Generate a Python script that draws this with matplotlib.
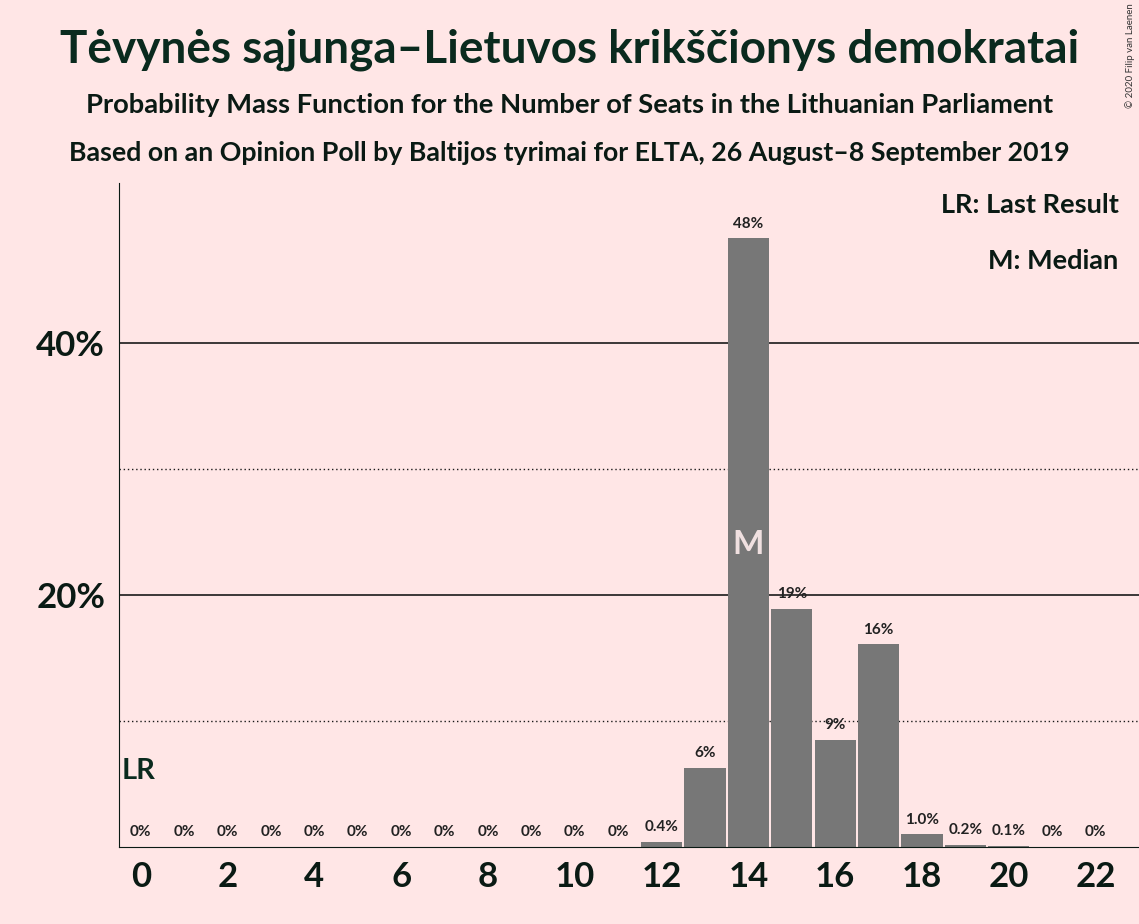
import matplotlib.pyplot as plt

seats = list(range(23))
probs = [0, 0, 0, 0, 0, 0, 0, 0, 0, 0, 0, 0, 0.4, 6.3, 48.3, 18.9, 8.5, 16.1, 1.0, 0.2, 0.1, 0, 0]
labels = ["0%"] * 12 + ["0.4%", "6%", "48%", "19%", "9%", "16%", "1.0%", "0.2%", "0.1%", "0%", "0%"]
median_seat = 14
last_result = 0

bg = "#FFE6E6"
plt.rcParams['font.family'] = ['Lato', 'DejaVu Sans']

fig = plt.figure(figsize=(11.39, 9.24), dpi=100, facecolor=bg)
ax = fig.add_axes([0.1045, 0.0833, 0.8955, 0.7187], facecolor=bg)

for y in [10, 30]:
    ax.axhline(y, color="#1a1a1a", linestyle=(0, (1, 2)), linewidth=1, zorder=1)
for y in [20, 40]:
    ax.axhline(y, color="#1a1a1a", linewidth=1.2, zorder=1)

ax.bar(seats, probs, width=0.95, color="#777777", zorder=2)
for s, p, lab in zip(seats, probs, labels):
    ax.text(s, p + 0.6, lab, ha="center", va="bottom", fontsize=11, fontweight="bold",
            color="#222222", zorder=3)

ax.text(median_seat, 24, "M", ha="center", va="center", fontsize=24, fontweight="bold",
        color="#f0e0e0", zorder=3)
ax.text(last_result - 0.45, 5.0, "LR", ha="left", va="bottom", fontsize=21, fontweight="bold",
        color="#0a2a1e", zorder=3)

ax.set_xlim(-0.5, 23.0)
ax.set_ylim(0, 52.7)
ax.set_xticks(range(0, 23, 2))
ax.set_yticks([20, 40])
ax.set_yticklabels(["20%", "40%"])
ax.tick_params(axis="both", length=0, labelsize=25, colors="#0a1a14", pad=10)
for lab in ax.get_xticklabels() + ax.get_yticklabels():
    lab.set_fontweight("bold")
for side in ["top", "right"]:
    ax.spines[side].set_visible(False)
ax.spines["left"].set_color("#0a1a14")
ax.spines["bottom"].set_color("#0a1a14")

ax.text(0.98, 0.985, "LR: Last Result", transform=ax.transAxes, ha="right", va="top",
        fontsize=19.5, fontweight="bold", color="#0a1a14")
ax.text(0.98, 0.9, "M: Median", transform=ax.transAxes, ha="right", va="top",
        fontsize=19.5, fontweight="bold", color="#0a1a14")

fig.text(0.5, 0.946, "Tėvynės sąjunga–Lietuvos krikščionys demokratai", ha="center", va="center",
         fontsize=33, fontweight="bold", color="#0a2a1e")
fig.text(0.5, 0.886, "Probability Mass Function for the Number of Seats in the Lithuanian Parliament",
         ha="center", va="center", fontsize=19.7, fontweight="bold", color="#0a1a14")
fig.text(0.5, 0.834, "Based on an Opinion Poll by Baltijos tyrimai for ELTA, 26 August–8 September 2019",
         ha="center", va="center", fontsize=19.3, fontweight="bold", color="#0a1a14")
fig.text(0.992, 0.94, "© 2020 Filip van Laenen", rotation=90, ha="center", va="center",
         fontsize=7, color="#333333")

fig.savefig("out.png", dpi=100, facecolor=bg)
